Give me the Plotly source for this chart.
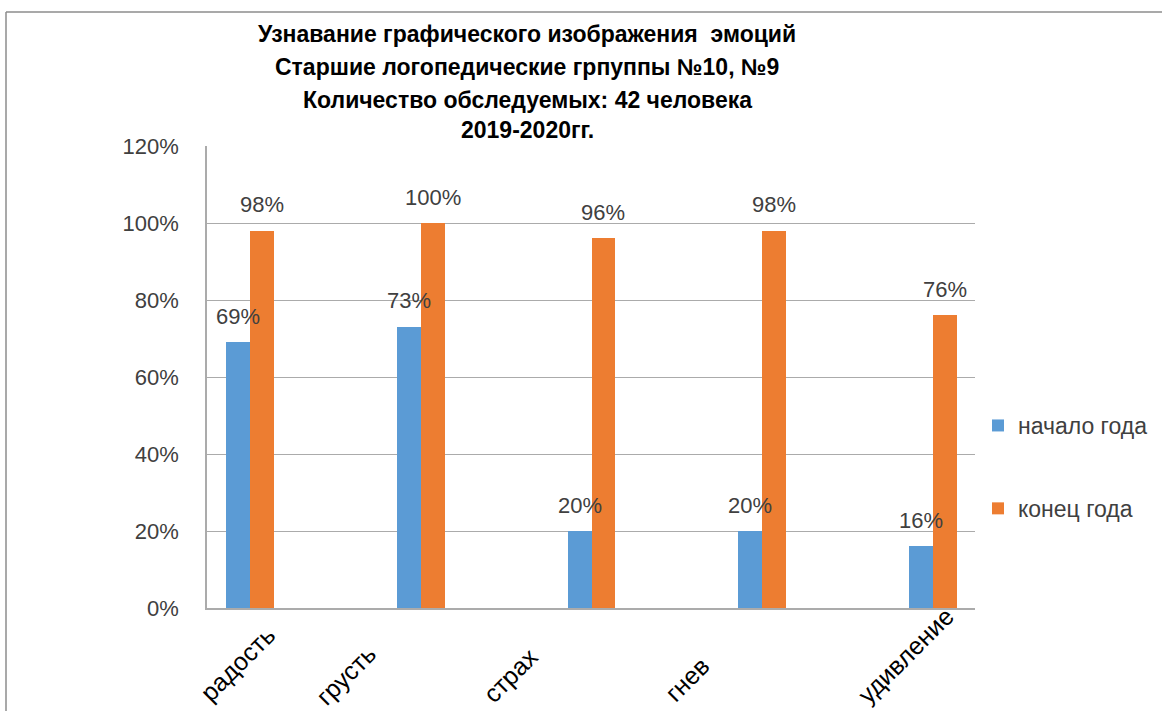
import plotly.graph_objects as go

categories = ["радость", "грусть", "страх", "гнев", "удивление"]
start_of_year = [0.69, 0.73, 0.20, 0.20, 0.16]
end_of_year = [0.98, 1.00, 0.96, 0.98, 0.76]
series_names = ["начало года", "конец года"]
title_lines = [
    "Узнавание графического изображения  эмоций",
    "Старшие логопедические грпуппы №10, №9",
    "Количество обследуемых: 42 человека",
    "2019-2020гг.",
]
y_ticks = [0, 0.2, 0.4, 0.6, 0.8, 1.0, 1.2]

# layout-only: pixel nudges of the rotated category labels (centre of label box)
label_dx = [-13, -75, -81, -75, -27]
label_cy = [664, 675, 675, 679, 655]

W, H = 1162, 711
ML, MR, MT, MB = 207, 187, 146, 103
PW = W - ML - MR
PH = H - MT - MB

BLUE = "#5B9BD5"
ORANGE = "#ED7D31"
TEXT = "#404040"
GRID = "#ABABAB"
FONT = "Liberation Sans, Arial, sans-serif"

BW = 0.14           # bar width in category units
OFF_B = -0.26       # offset of blue bar from category position
OFF_O = OFF_B + BW  # offset of orange bar
PAIR_C = OFF_B + BW
XR = [-0.373, 4.127]


def px_to_paper_x(px):
    return (px - ML) / PW


def px_to_paper_y(py):
    return (H - MB - py) / PH


fig = go.Figure()
fig.add_trace(go.Bar(x=categories, y=start_of_year, name=series_names[0],
                     marker=dict(color=BLUE, line=dict(width=0)),
                     width=BW, offset=OFF_B, legendgroup="a"))
fig.add_trace(go.Bar(x=categories, y=end_of_year, name=series_names[1],
                     marker=dict(color=ORANGE, line=dict(width=0)),
                     width=BW, offset=OFF_O, legendgroup="b"))

annotations = []
for i, (a, b) in enumerate(zip(start_of_year, end_of_year)):
    annotations.append(dict(x=i + OFF_B + BW / 2, y=a, xref="x", yref="y",
                            text=f"{round(a*100)}%", showarrow=False,
                            yshift=26, yanchor="middle",
                            font=dict(size=22, color=TEXT, family=FONT)))
    annotations.append(dict(x=i + OFF_O + BW / 2, y=b, xref="x", yref="y",
                            text=f"{round(b*100)}%", showarrow=False,
                            yshift=26, yanchor="middle",
                            font=dict(size=22, color=TEXT, family=FONT)))

for i, (cat, dx, cy) in enumerate(zip(categories, label_dx, label_cy)):
    annotations.append(dict(x=i + PAIR_C, y=px_to_paper_y(cy), xref="x",
                            yref="paper", text=cat, showarrow=False,
                            textangle=-45, xanchor="center", yanchor="middle",
                            xshift=dx,
                            font=dict(size=25, color="black", family=FONT)))

for line, py in zip(title_lines, [34, 67, 100, 130]):
    annotations.append(dict(x=px_to_paper_x(527), y=px_to_paper_y(py),
                            xref="paper", yref="paper", text=f"<b>{line}</b>",
                            showarrow=False, xanchor="center", yanchor="middle",
                            font=dict(size=23, color="black", family=FONT)))

shapes = [
    dict(type="line", xref="paper", yref="paper",
         x0=px_to_paper_x(6), x1=px_to_paper_x(W + 5),
         y0=px_to_paper_y(12), y1=px_to_paper_y(12),
         line=dict(color="#8C8C8C", width=1.5)),
    dict(type="line", xref="paper", yref="paper",
         x0=px_to_paper_x(6), x1=px_to_paper_x(6),
         y0=px_to_paper_y(12), y1=px_to_paper_y(H + 5),
         line=dict(color="#8C8C8C", width=1.5)),
]

fig.update_layout(
    width=W, height=H,
    margin=dict(l=ML, r=MR, t=MT, b=MB, autoexpand=False),
    paper_bgcolor="white", plot_bgcolor="white",
    font=dict(family=FONT, size=22, color=TEXT),
    showlegend=True,
    legend=dict(x=px_to_paper_x(978), y=px_to_paper_y(404), xanchor="left",
                yanchor="top", tracegroupgap=50,
                font=dict(size=23, color=TEXT, family=FONT),
                bgcolor="rgba(0,0,0,0)"),
    annotations=annotations,
    shapes=shapes,
    bargap=0,
)
fig.update_xaxes(type="category", range=XR, showticklabels=False,
                 showline=True, linecolor=GRID, linewidth=1.5,
                 showgrid=False, ticks="")
fig.update_yaxes(range=[0, 1.2], tickvals=y_ticks, tickformat=".0%",
                 showgrid=True, gridcolor=GRID, gridwidth=1.2,
                 showline=True, linecolor=GRID, linewidth=1.5,
                 zeroline=False, ticks="", ticklabelstandoff=22,
                 tickfont=dict(size=22, color=TEXT, family=FONT))

fig.write_html("out.html", config={"displayModeBar": False},
               post_script="document.body.style.margin='0';")
